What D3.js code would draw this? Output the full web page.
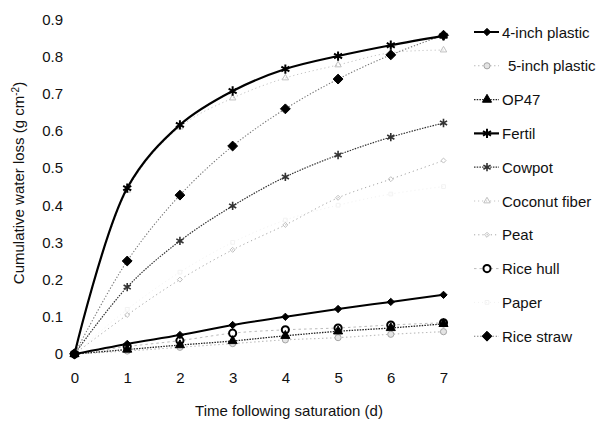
<!DOCTYPE html>
<html><head><meta charset="utf-8">
<script src="https://cdn.jsdelivr.net/npm/d3@7"></script>
<style>
html,body{margin:0;padding:0;background:#fff;}
svg{display:block;}
text{font-family:"Liberation Sans",Arial,sans-serif;fill:#111;}
</style></head>
<body>
<svg id="chart" width="597" height="422"></svg>
<script>
// ---- data ----
const days = [0, 1, 2, 3, 4, 5, 6, 7];
const xTicks = [0, 1, 2, 3, 4, 5, 6, 7];
const yTicks = [0, 0.1, 0.2, 0.3, 0.4, 0.5, 0.6, 0.7, 0.8, 0.9];
const seriesNames = ["4-inch plastic", "5-inch plastic", "OP47", "Fertil", "Cowpot",
  "Coconut fiber", "Peat", "Rice hull", "Paper", "Rice straw"];
const fourInchPlastic = [0, 0.027, 0.051, 0.078, 0.100, 0.121, 0.140, 0.159];
const fiveInchPlastic = [0, 0.008, 0.018, 0.028, 0.038, 0.044, 0.053, 0.060];
const op47 = [0, 0.012, 0.024, 0.035, 0.049, 0.061, 0.070, 0.081];
const fertil = [0, 0.446, 0.616, 0.707, 0.766, 0.801, 0.830, 0.855];
const cowpot = [0, 0.180, 0.304, 0.398, 0.476, 0.535, 0.583, 0.621];
const coconutFiber = [0, 0.440, 0.610, 0.688, 0.742, 0.777, 0.810, 0.817];
const peat = [0, 0.105, 0.200, 0.280, 0.347, 0.420, 0.470, 0.520];
const riceHull = [0, 0.020, 0.036, 0.056, 0.065, 0.070, 0.078, 0.084];
const paper = [0, 0.120, 0.220, 0.300, 0.360, 0.400, 0.430, 0.450];
const riceStraw = [0, 0.250, 0.427, 0.559, 0.659, 0.739, 0.804, 0.857];
const seriesValues = [fourInchPlastic, fiveInchPlastic, op47, fertil, cowpot,
  coconutFiber, peat, riceHull, paper, riceStraw];

// ---- styles ----
const styles = {
  "4-inch plastic": {stroke:"#000", width:2, dash:null, sym:d3.symbolDiamond2, size:34, fill:"#000", mstroke:"#000", mw:1},
  "5-inch plastic": {stroke:"#bcbcbc", width:1.1, dash:"1.5,2.5", sym:d3.symbolCircle, size:30, fill:"#e4e4e4", mstroke:"#a5a5a5", mw:1},
  "OP47": {stroke:"#222", width:1.3, dash:"1.5,1.2", sym:d3.symbolTriangle, size:36, fill:"#000", mstroke:"#000", mw:1},
  "Fertil": {stroke:"#000", width:2.2, dash:null, sym:d3.symbolAsterisk, size:60, fill:"none", mstroke:"#000", mw:2},
  "Cowpot": {stroke:"#333", width:1.2, dash:"1.5,1.2", sym:d3.symbolAsterisk, size:48, fill:"none", mstroke:"#333", mw:1.6},
  "Coconut fiber": {stroke:"#c4c4c4", width:1, dash:"1.2,2.8", sym:d3.symbolTriangle, size:18, fill:"none", mstroke:"#c0c0c0", mw:1},
  "Peat": {stroke:"#a8a8a8", width:1, dash:"1.2,3", sym:d3.symbolDiamond2, size:16, fill:"none", mstroke:"#c0c0c0", mw:1},
  "Rice hull": {stroke:"#bbb", width:1, dash:"2.5,3", sym:d3.symbolCircle, size:40, fill:"#fff", mstroke:"#000", mw:2},
  "Paper": {stroke:"#f2f2f2", width:1, dash:"1,3", sym:d3.symbolSquare, size:14, fill:"none", mstroke:"#f2f2f2", mw:1},
  "Rice straw": {stroke:"#777", width:1.1, dash:"1.3,1.8", sym:d3.symbolDiamond2, size:62, fill:"#000", mstroke:"#000", mw:1}
};

const svg = d3.select("#chart");
const x = d3.scaleLinear().domain([0, 7]).range([74.5, 443.5]);
const y = d3.scaleLinear().domain([0, 0.9]).range([354, 19.2]);
const FS = 15;

// axes (labels only, no lines)
const yAxis = d3.axisLeft(y).tickValues(yTicks).tickSize(0).tickPadding(0)
  .tickFormat(d => d === 0 ? "0" : d3.format(".1f")(d));
const gy = svg.append("g").attr("transform", "translate(63,0)").call(yAxis);
gy.select(".domain").remove();
gy.selectAll("text").style("font-size", FS + "px").attr("fill", "#111")
  .style("font-family", '"Liberation Sans",Arial,sans-serif');

const xAxis = d3.axisBottom(x).tickValues(xTicks).tickSize(0).tickPadding(0)
  .tickFormat(d3.format("d"));
const gx = svg.append("g").attr("transform", "translate(0,372)").call(xAxis);
gx.select(".domain").remove();
gx.selectAll("text").style("font-size", FS + "px").attr("fill", "#111")
  .style("font-family", '"Liberation Sans",Arial,sans-serif');

// axis titles
svg.append("text").attr("x", 289).attr("y", 416).attr("text-anchor", "middle")
  .style("font-size", FS + "px").text("Time following saturation (d)");
const yt = svg.append("text").attr("transform", "translate(24,183) rotate(-90)")
  .attr("text-anchor", "middle").style("font-size", FS + "px");
yt.append("tspan").text("Cumulative water loss (g cm");
yt.append("tspan").attr("dy", -5).style("font-size", "10px").text("-2");
yt.append("tspan").attr("dy", 5).text(")");

// series
const line = d3.line().x(d => x(d[0])).y(d => y(d[1])).curve(d3.curveCatmullRom.alpha(0.5));
const drawOrder = [8, 5, 6, 1, 7, 2, 0, 4, 9, 3];
drawOrder.forEach(i => {
  const name = seriesNames[i];
  const st = styles[name];
  const pts = days.map((d, j) => [d, seriesValues[i][j]]);
  svg.append("path").attr("d", line(pts)).attr("fill", "none")
    .attr("stroke", st.stroke).attr("stroke-width", st.width)
    .attr("stroke-dasharray", st.dash);
  svg.append("g").selectAll("path").data(pts).join("path")
    .attr("transform", d => `translate(${x(d[0])},${y(d[1])})`)
    .attr("d", d3.symbol().type(st.sym).size(st.size))
    .attr("fill", st.fill).attr("stroke", st.mstroke).attr("stroke-width", st.mw);
});

// legend
const lg = svg.append("g");
seriesNames.forEach((name, i) => {
  const st = styles[name];
  const cy = 32 + i * 33.8;
  const g = lg.append("g").attr("transform", `translate(0,${cy})`);
  g.append("line").attr("x1", 474).attr("x2", 499).attr("y1", 0).attr("y2", 0)
    .attr("stroke", st.stroke).attr("stroke-width", st.width).attr("stroke-dasharray", st.dash);
  g.append("path").attr("transform", "translate(487,0)")
    .attr("d", d3.symbol().type(st.sym).size(st.size))
    .attr("fill", st.fill).attr("stroke", st.mstroke).attr("stroke-width", st.mw);
  g.append("text").attr("x", name === "5-inch plastic" ? 508 : 502).attr("y", 5.5)
    .style("font-size", FS + "px").text(name);
});
</script>
</body></html>
